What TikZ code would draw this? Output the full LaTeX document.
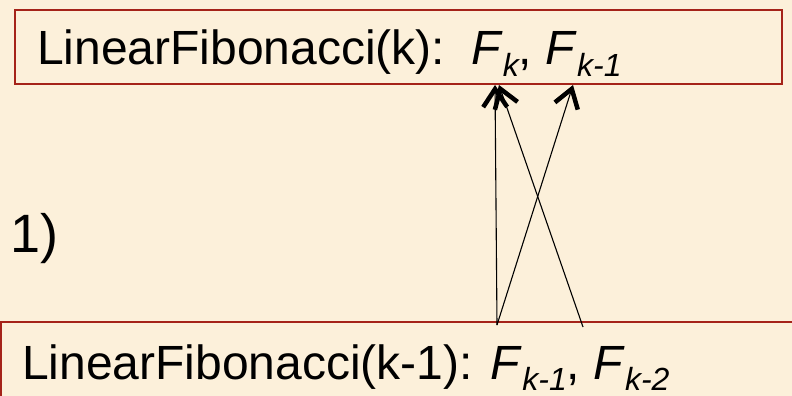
\documentclass[tikz,border=0pt]{standalone}
\usepackage{fontspec}
\setmainfont{Liberation Sans}
\usetikzlibrary{arrows.meta}
\definecolor{bg}{RGB}{252,240,218}
\definecolor{frame}{RGB}{165,35,25}
\newcommand{\sbs}[1]{\raisebox{-11pt}{\fontsize{32}{36}\selectfont\itshape #1}}
\begin{document}
\begin{tikzpicture}[x=1pt,y=-1pt,
  boxst/.style={draw=frame,line width=1.8pt,fill=bg},
  txt/.style={anchor=base west,inner sep=0pt,font=\fontsize{48}{54}\selectfont},
  arr/.style={line width=1.1pt,-{Straight Barb[length=18pt,width=24pt,line width=4.5pt]}}]
\fill[bg] (0,0) rectangle (792,396);
\useasboundingbox (0,0) rectangle (792,396);
\draw[boxst] (15,10) rectangle (782,84);
\draw[boxst] (1,322) rectangle (800,400);
\node[txt] (top) at (37,65) {LinearFibonacci(k):\hspace{26pt}\textit{F}\sbs{k}, \textit{F}\sbs{k-1}};
\node[txt] (bot) at (22,379) {LinearFibonacci(k-1): \textit{F}\sbs{k-1}, \textit{F}\sbs{k-2}};
\node[txt,font=\fontsize{54}{60}\selectfont] (one) at (10,252) {1)};
\coordinate (b1) at (497,325);
\coordinate (b2) at (583,327);
\coordinate (t1) at (495,85);
\coordinate (t2) at (499,85);
\coordinate (t3) at (573,85);
\draw[arr] (b1) -- (t1);
\draw[arr] (b2) -- (t2);
\draw[arr] (b1) -- (t3);
\end{tikzpicture}
\end{document}
